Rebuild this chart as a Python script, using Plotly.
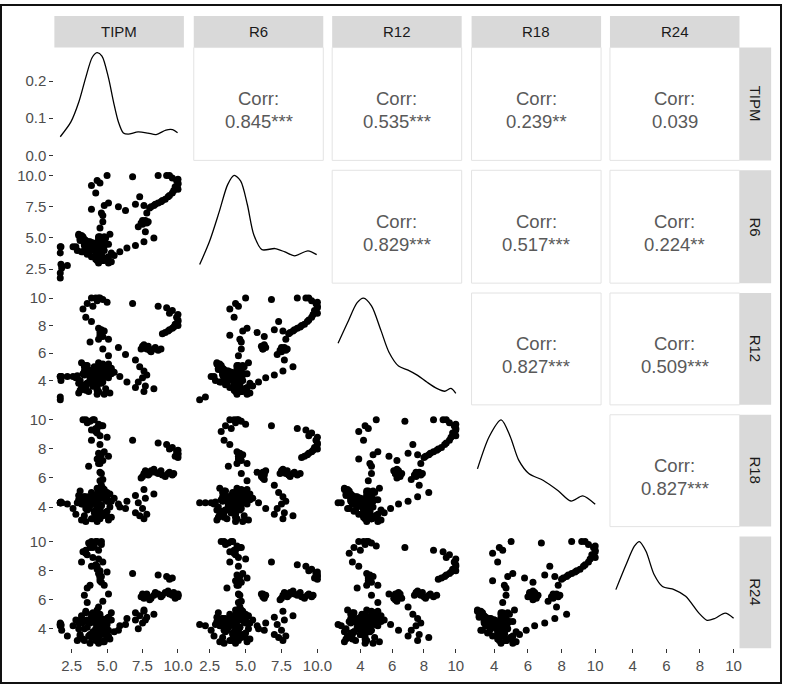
import plotly.graph_objects as go

W, H = 791, 687
variables = ["TIPM", "R6", "R12", "R18", "R24"]

# monthly index series; the R-columns are the same series 6/12/18/24 steps ahead
base_series = [
    1.7, 1.7, 1.75, 1.7, 1.7, 1.75,
    1.8, 2.2, 2.9, 3.8, 4.3, 4.3,
    2.6, 2.8, 4.0, 4.3, 4.3, 4.25,
    4.3, 4.3, 4.35, 4.3, 4.3, 4.3, 4.3, 4.2, 4.3, 4.4, 4.3, 4.2,
    3.9, 3.5, 3.2, 3.0, 3.3, 3.8, 4.2, 4.6, 5.0, 5.3, 4.9, 4.4, 4.0, 3.6,
    3.4, 3.8, 4.5, 4.6, 4.4, 4.5, 4.6, 4.5, 4.3, 4.5, 4.8, 5.1, 4.7, 4.4,
    4.5, 4.6, 4.4, 4.5, 4.7, 4.6,
    3.9, 4.8, 5.1, 5.8, 6.3, 7.0,
    7.3, 7.6, 7.8, 7.5, 7.2, 7.7, 8.3,
    7.6, 7.0, 6.4, 5.9, 5.5, 5.0,
    4.7, 4.4, 4.2, 3.9, 3.6, 3.4, 3.2, 3.5, 3.9, 4.3, 4.6, 4.9, 5.2, 4.8, 4.4, 4.0,
    4.6, 5.0, 5.3, 5.1, 4.7, 4.2, 3.8, 3.4, 3.1, 3.0, 3.2, 3.6, 4.1, 4.5, 4.9, 5.2, 5.0, 4.6,
    4.1, 3.7, 3.3, 3.1, 3.4, 3.8, 4.3, 4.7, 5.1, 4.8, 4.4, 4.0, 3.6, 3.2, 3.5, 4.0, 4.4, 4.6,
    3.7, 3.9, 4.2, 4.6, 4.3, 4.1, 3.8, 3.5, 3.3, 3.6, 4.0, 4.4, 4.7, 4.2, 3.9, 4.3,
    4.5, 5.0, 6.8, 8.6, 9.2, 9.6, 9.4,
    10.0, 9.9, 10.0, 10.0, 9.8, 10.0,
    9.7, 9.6, 9.4, 9.3, 9.1, 8.9, 8.8, 8.6, 8.4, 8.3, 8.1, 8.0, 7.9, 7.8, 7.7, 7.6, 7.5, 7.4,
    6.3, 6.2, 6.4, 6.3, 6.1, 6.2, 6.5, 6.3, 6.4, 6.6, 6.5, 6.3,
    6.2, 6.4, 6.5, 6.3, 6.1, 6.0, 6.2, 6.4, 6.3, 6.1, 6.4, 6.2,
]
N_OBS = len(base_series) - 24
TIPM = base_series[0:N_OBS]
R6 = base_series[6:6 + N_OBS]
R12 = base_series[12:12 + N_OBS]
R18 = base_series[18:18 + N_OBS]
R24 = base_series[24:24 + N_OBS]
data = {"TIPM": TIPM, "R6": R6, "R12": R12, "R18": R18, "R24": R24}

# correlation labels (upper triangle)
corr_labels = {
    (0, 1): "0.845***", (0, 2): "0.535***", (0, 3): "0.239**", (0, 4): "0.039",
    (1, 2): "0.829***", (1, 3): "0.517***", (1, 4): "0.224**",
    (2, 3): "0.827***", (2, 4): "0.509***",
    (3, 4): "0.827***",
}

# diagonal density curves (value, density)
dens_TIPM_x = [1.7, 2.45, 3.02, 3.49, 3.95, 4.29, 4.64, 5.10, 5.45, 5.80, 6.15, 6.49, 7.19, 7.88, 8.46, 9.15, 9.62, 9.97]
dens_TIPM_y = [0.050, 0.090, 0.145, 0.209, 0.264, 0.277, 0.268, 0.209, 0.145, 0.090, 0.060, 0.057, 0.063, 0.060, 0.056, 0.068, 0.069, 0.061]
dens_R6_x = [1.8, 2.49, 3.17, 3.75, 4.20, 4.66, 5.12, 5.57, 6.14, 7.05, 7.74, 8.42, 9.34, 9.95]
dens_R6_y = [0.035, 0.096, 0.174, 0.244, 0.268, 0.253, 0.192, 0.113, 0.074, 0.077, 0.068, 0.058, 0.071, 0.061]
dens_R12_x = [2.6, 3.2, 3.8, 4.2, 4.7, 5.3, 5.8, 6.4, 7.0, 7.6, 8.2, 8.8, 9.3, 9.7, 10.0]
dens_R12_y = [0.139, 0.190, 0.239, 0.250, 0.231, 0.170, 0.117, 0.083, 0.073, 0.060, 0.043, 0.028, 0.021, 0.028, 0.016]
dens_R18_x = [3.0, 3.71, 4.41, 4.94, 5.46, 6.05, 6.92, 7.80, 8.56, 9.26, 10.0]
dens_R18_y = [0.113, 0.183, 0.218, 0.183, 0.131, 0.103, 0.088, 0.066, 0.044, 0.055, 0.037]
dens_R24_x = [3.0, 3.61, 4.10, 4.40, 4.79, 5.28, 5.77, 6.46, 7.15, 7.94, 8.42, 8.91, 9.50, 10.0]
dens_R24_y = [0.105, 0.154, 0.190, 0.199, 0.180, 0.134, 0.111, 0.105, 0.092, 0.059, 0.045, 0.049, 0.059, 0.049]
density = {
    "TIPM": (dens_TIPM_x, dens_TIPM_y), "R6": (dens_R6_x, dens_R6_y),
    "R12": (dens_R12_x, dens_R12_y), "R18": (dens_R18_x, dens_R18_y),
    "R24": (dens_R24_x, dens_R24_y),
}

tick_vals = {"TIPM": [2.5, 5.0, 7.5, 10.0], "R6": [2.5, 5.0, 7.5, 10.0],
             "R12": [4, 6, 8, 10], "R18": [4, 6, 8, 10], "R24": [4, 6, 8, 10]}
tick_fmt = {"TIPM": ".1f", "R6": ".1f", "R12": "d", "R18": "d", "R24": "d"}
density_ticks = [0.0, 0.1, 0.2]

# panel pixel boxes
col_px = [(55, 186), (196, 327), (336, 467), (477, 608), (617, 748)]
row_px = [(44, 158), (168, 282), (292, 405), (415, 528), (538, 651)]

FONT = "Liberation Sans, Arial, sans-serif"
TICKFONT = dict(family=FONT, size=15, color="#4D4D4D")


def rng(v):
    lo, hi = min(v), max(v)
    r = hi - lo
    return [lo - 0.05 * r, hi + 0.05 * r]


fig = go.Figure()
layout = {}
annotations = []
shapes = []

for i in range(5):
    for j in range(5):
        k = i * 5 + j + 1
        sfx = "" if k == 1 else str(k)
        xref, yref = "x" + sfx, "y" + sfx
        x0, x1 = col_px[j]
        y0, y1 = row_px[i]
        xdom = [x0 / W, x1 / W]
        ydom = [1 - y1 / H, 1 - y0 / H]
        vx, vy = variables[j], variables[i]
        xa = dict(domain=xdom, anchor=yref, showgrid=False, zeroline=False,
                  showline=False, showticklabels=False, ticks="")
        ya = dict(domain=ydom, anchor=xref, showgrid=False, zeroline=False,
                  showline=False, showticklabels=False, ticks="")
        if i > j:
            fig.add_trace(go.Scatter(x=data[vx], y=data[vy], mode="markers",
                                     marker=dict(color="black", size=7),
                                     xaxis=xref, yaxis=yref, showlegend=False,
                                     hoverinfo="skip"))
            xa["range"] = rng(data[vx])
            ya["range"] = rng(data[vy])
        elif i == j:
            dx, dy = density[vx]
            fig.add_trace(go.Scatter(x=dx, y=dy, mode="lines",
                                     line=dict(color="black", width=1.3, shape="spline", smoothing=0.8),
                                     xaxis=xref, yaxis=yref, showlegend=False,
                                     hoverinfo="skip"))
            xa["range"] = rng(data[vx])
            dmax = max(dy)
            ya["range"] = [-0.05 * dmax, 1.05 * dmax]
        else:
            fig.add_trace(go.Scatter(x=[None], y=[None], mode="markers",
                                     xaxis=xref, yaxis=yref, showlegend=False))
            xa["range"] = [0, 1]
            ya["range"] = [0, 1]
            shapes.append(dict(type="rect", xref=xref + " domain", yref=yref + " domain",
                               x0=0, x1=1, y0=0, y1=1,
                               line=dict(color="#E3E3E3", width=1)))
            h = y1 - y0
            annotations.append(dict(text="Corr:", xref=xref + " domain", yref=yref + " domain",
                                    x=0.5, y=0.5 + 5.4 / h, showarrow=False,
                                    xanchor="center", yanchor="middle",
                                    font=dict(family=FONT, size=18.5, color="#595959")))
            annotations.append(dict(text=corr_labels[(i, j)], xref=xref + " domain",
                                    yref=yref + " domain", x=0.5, y=0.5 - 17.6 / h,
                                    showarrow=False, xanchor="center", yanchor="middle",
                                    font=dict(family=FONT, size=18.5, color="#595959")))
        if i == 4:
            xa.update(showticklabels=True, ticks="outside", ticklen=4, tickwidth=1,
                      tickcolor="#333333", tickvals=tick_vals[vx], tickformat=tick_fmt[vx],
                      tickfont=TICKFONT)
        if j == 0:
            if i == 0:
                ya.update(showticklabels=True, ticks="outside", ticklen=4, tickwidth=1,
                          tickcolor="#333333", tickvals=density_ticks, tickformat=".1f",
                          tickfont=TICKFONT)
            else:
                ya.update(showticklabels=True, ticks="outside", ticklen=4, tickwidth=1,
                          tickcolor="#333333", tickvals=tick_vals[vy],
                          tickformat=tick_fmt[vy], tickfont=TICKFONT)
        layout["xaxis" + sfx] = xa
        layout["yaxis" + sfx] = ya

# strips
for j, name in enumerate(variables):
    x0, x1 = col_px[j]
    shapes.append(dict(type="rect", xref="paper", yref="paper",
                       x0=x0 / W, x1=x1 / W, y0=1 - 44 / H, y1=1 - 12 / H,
                       fillcolor="#D9D9D9", line=dict(width=0), layer="below"))
    annotations.append(dict(text=name, xref="paper", yref="paper",
                            x=(x0 + x1) / 2 / W, y=1 - 28 / H, showarrow=False,
                            xanchor="center", yanchor="middle",
                            font=dict(family=FONT, size=15, color="#1A1A1A")))
for i, name in enumerate(variables):
    y0, y1 = row_px[i]
    shapes.append(dict(type="rect", xref="paper", yref="paper",
                       x0=748 / W, x1=780 / W, y0=1 - y1 / H, y1=1 - y0 / H,
                       fillcolor="#D9D9D9", line=dict(width=0), layer="below"))
    annotations.append(dict(text=name, xref="paper", yref="paper",
                            x=764 / W, y=1 - (y0 + y1) / 2 / H, showarrow=False,
                            textangle=90, xanchor="center", yanchor="middle",
                            font=dict(family=FONT, size=15, color="#1A1A1A")))

# outer frame
shapes.append(dict(type="rect", xref="paper", yref="paper",
                   x0=1 / W, x1=790 / W, y0=1 / H, y1=686 / H,
                   line=dict(color="#111111", width=2)))

fig.update_layout(width=W, height=H, margin=dict(l=0, r=0, t=0, b=0),
                  paper_bgcolor="white", plot_bgcolor="white",
                  annotations=annotations, shapes=shapes, showlegend=False,
                  **layout)

fig.write_html("out.html")
